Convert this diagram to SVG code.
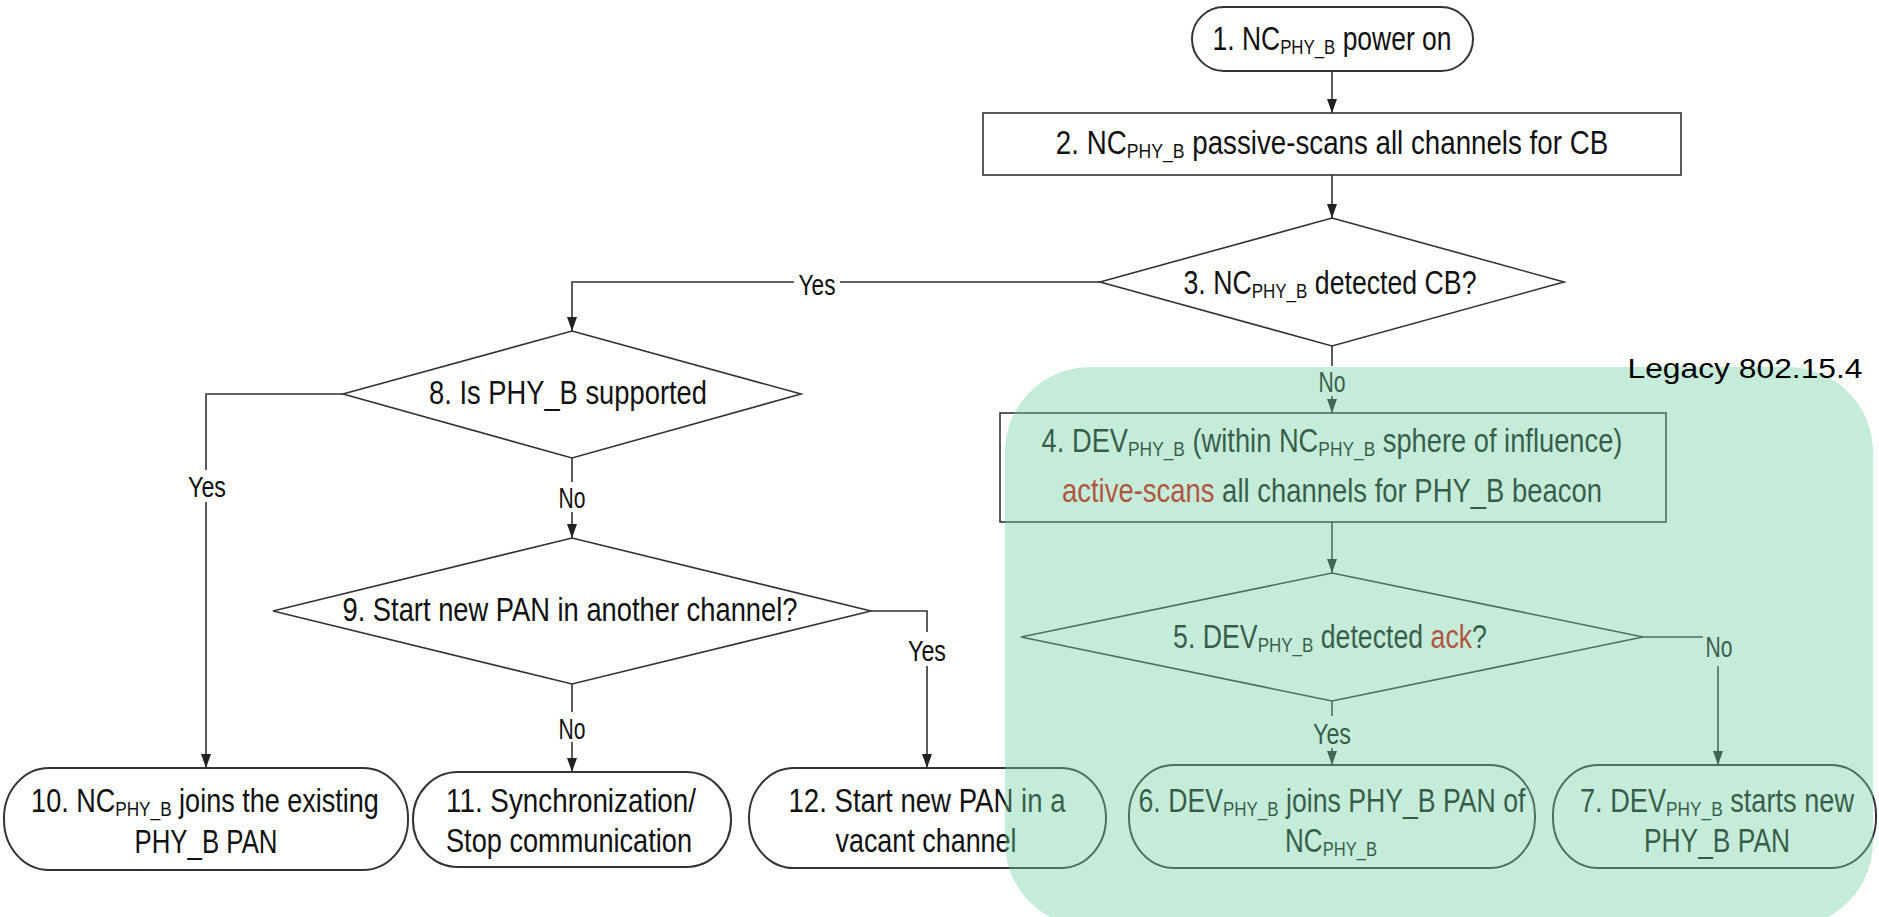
<svg xmlns="http://www.w3.org/2000/svg" width="1879" height="917" viewBox="0 0 1879 917">
<defs>
<marker id="arr" markerUnits="userSpaceOnUse" markerWidth="14" markerHeight="10" refX="14" refY="5" orient="auto">
<path d="M0,0 L14,5 L0,10 z" fill="#222"/>
</marker>
<style>
.t{font-family:"Liberation Sans",Arial,sans-serif;font-size:33px;fill:#111;text-anchor:middle}
.s{font-size:21px}
.lb{font-family:"Liberation Sans",Arial,sans-serif;font-size:30px;fill:#111;text-anchor:middle}
.shape{fill:#fff;stroke:#333;stroke-width:1.6}
.pill{fill:#fff;stroke:#333;stroke-width:2}
.con{fill:none;stroke:#333;stroke-width:1.6}
.red{fill:#e00000}
.bg{fill:#fff}
</style>
</defs>
<rect width="1879" height="917" fill="#fff"/>

<g id="connectors">
<path class="con" d="M1332,71 V113" marker-end="url(#arr)"/>
<path class="con" d="M1332,175 V218" marker-end="url(#arr)"/>
<path class="con" d="M1100,282 H572 V331" marker-end="url(#arr)"/>
<path class="con" d="M1332,346 V413" marker-end="url(#arr)"/>
<path class="con" d="M1332,522 V573" marker-end="url(#arr)"/>
<path class="con" d="M1332,701 V765" marker-end="url(#arr)"/>
<path class="con" d="M1643,637 H1718 V765" marker-end="url(#arr)"/>
<path class="con" d="M343,394 H206 V768" marker-end="url(#arr)"/>
<path class="con" d="M572,458 V538" marker-end="url(#arr)"/>
<path class="con" d="M572,684 V772" marker-end="url(#arr)"/>
<path class="con" d="M871,611 H927 V768" marker-end="url(#arr)"/>
<g id="labels">
<rect class="bg" x="794" y="270" width="46" height="28"/>
<text class="lb" x="817" y="295" textLength="37" lengthAdjust="spacingAndGlyphs">Yes</text>
<rect class="bg" x="1316" y="366" width="32" height="30"/>
<text class="lb" x="1332" y="392" textLength="27" lengthAdjust="spacingAndGlyphs">No</text>
<rect class="bg" x="186" y="470" width="42" height="32"/>
<text class="lb" x="207" y="497" textLength="38" lengthAdjust="spacingAndGlyphs">Yes</text>
<rect class="bg" x="556" y="482" width="32" height="30"/>
<text class="lb" x="572" y="508" textLength="27" lengthAdjust="spacingAndGlyphs">No</text>
<rect class="bg" x="556" y="712" width="32" height="30"/>
<text class="lb" x="572" y="739" textLength="27" lengthAdjust="spacingAndGlyphs">No</text>
<rect class="bg" x="906" y="632" width="42" height="34"/>
<text class="lb" x="927" y="661" textLength="38" lengthAdjust="spacingAndGlyphs">Yes</text>
<rect class="bg" x="1311" y="716" width="42" height="32"/>
<text class="lb" x="1332" y="744" textLength="38" lengthAdjust="spacingAndGlyphs">Yes</text>
<rect class="bg" x="1703" y="626" width="32" height="40"/>
<text class="lb" x="1719" y="657" textLength="27" lengthAdjust="spacingAndGlyphs">No</text>
</g>
</g>

<g id="n1">
<rect class="pill" x="1192" y="7" width="281" height="64" rx="32" ry="32"/>
<text class="t" transform="translate(1332,50) scale(0.802,1)">1. NC<tspan class="s" dy="4">PHY_B</tspan><tspan dy="-4"> power on</tspan></text>
</g>
<g id="n2">
<rect class="shape" x="983" y="113" width="698" height="62" stroke-width="2"/>
<text class="t" transform="translate(1332,154) scale(0.84,1)">2. NC<tspan class="s" dy="4">PHY_B</tspan><tspan dy="-4"> passive-scans all channels for CB</tspan></text>
</g>
<g id="n3">
<polygon class="shape" points="1332,218 1564,282 1332,346 1100,282"/>
<text class="t" transform="translate(1330,294) scale(0.809,1)">3. NC<tspan class="s" dy="4">PHY_B</tspan><tspan dy="-4"> detected CB?</tspan></text>
</g>
<g id="n4">
<rect class="shape" x="1000" y="413" width="666" height="109" stroke-width="2"/>
<text class="t" transform="translate(1332,452) scale(0.827,1)">4. DEV<tspan class="s" dy="4">PHY_B</tspan><tspan dy="-4"> (within NC</tspan><tspan class="s" dy="4">PHY_B</tspan><tspan dy="-4"> sphere of influence)</tspan></text>
<text class="t" transform="translate(1332,502) scale(0.832,1)"><tspan class="red">active-scans</tspan> all channels for PHY_B beacon</text>
</g>
<g id="n5">
<polygon class="shape" points="1332,573 1643,637 1332,701 1021,637"/>
<text class="t" transform="translate(1330,648) scale(0.809,1)">5. DEV<tspan class="s" dy="4">PHY_B</tspan><tspan dy="-4"> detected </tspan><tspan class="red">ack</tspan>?</text>
</g>
<g id="n8">
<polygon class="shape" points="572,331 801,394 572,458 343,394"/>
<text class="t" x="568" y="404" textLength="278" lengthAdjust="spacingAndGlyphs">8. Is PHY_B supported</text>
</g>
<g id="n9">
<polygon class="shape" points="572,538 871,611 572,684 273,611"/>
<text class="t" x="570" y="621" textLength="455" lengthAdjust="spacingAndGlyphs">9. Start new PAN in another channel?</text>
</g>
<g id="n10">
<rect class="pill" x="4" y="768" width="404" height="102" rx="45" ry="50"/>
<text class="t" transform="translate(205,812) scale(0.819,1)">10. NC<tspan class="s" dy="4">PHY_B</tspan><tspan dy="-4"> joins the existing</tspan></text>
<text class="t" x="206" y="853" textLength="143" lengthAdjust="spacingAndGlyphs">PHY_B PAN</text>
</g>
<g id="n11">
<rect class="pill" x="413" y="772" width="318" height="95" rx="45" ry="47"/>
<text class="t" x="571" y="812" textLength="250" lengthAdjust="spacingAndGlyphs">11. Synchronization/</text>
<text class="t" x="569" y="852" textLength="246" lengthAdjust="spacingAndGlyphs">Stop communication</text>
</g>
<g id="n12">
<rect class="pill" x="749" y="768" width="357" height="100" rx="45" ry="50"/>
<text class="t" x="927" y="812" textLength="277" lengthAdjust="spacingAndGlyphs">12. Start new PAN in a</text>
<text class="t" x="926" y="852" textLength="181" lengthAdjust="spacingAndGlyphs">vacant channel</text>
</g>
<g id="n6">
<rect class="pill" x="1129" y="765" width="406" height="103" rx="45" ry="50"/>
<text class="t" transform="translate(1332,812) scale(0.808,1)">6. DEV<tspan class="s" dy="4">PHY_B</tspan><tspan dy="-4"> joins PHY_B PAN of</tspan></text>
<text class="t" transform="translate(1331,852) scale(0.79,1)">NC<tspan class="s" dy="4">PHY_B</tspan></text>
</g>
<g id="n7">
<rect class="pill" x="1553" y="765" width="323" height="103" rx="45" ry="50"/>
<text class="t" transform="translate(1717,812) scale(0.823,1)">7. DEV<tspan class="s" dy="4">PHY_B</tspan><tspan dy="-4"> starts new</tspan></text>
<text class="t" x="1717" y="852" textLength="146" lengthAdjust="spacingAndGlyphs">PHY_B PAN</text>
</g>

<g id="legacy-region">
<rect x="1005" y="367" width="868" height="560" rx="85" ry="85" fill="rgb(110,207,158)" opacity="0.4"/>
<text x="1745" y="378" font-family="'Liberation Sans',Arial,sans-serif" font-size="28" fill="#000" text-anchor="middle" textLength="235" lengthAdjust="spacingAndGlyphs">Legacy 802.15.4</text>
</g>
</svg>
